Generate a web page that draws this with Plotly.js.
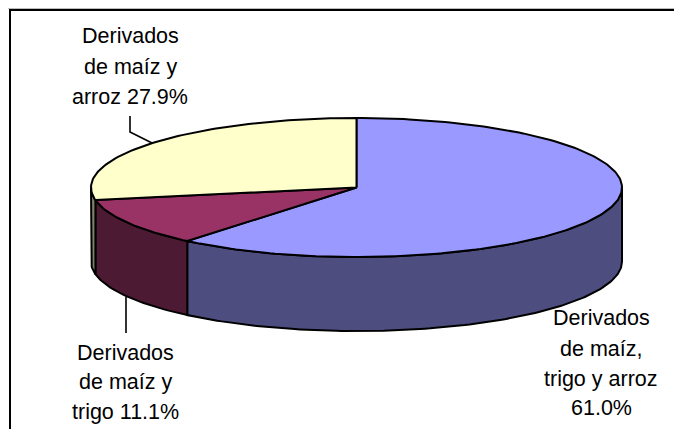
<!DOCTYPE html>
<html><head><meta charset="utf-8">
<script src="https://cdn.plot.ly/plotly-3.0.1.min.js"></script>
<style>html,body{margin:0;padding:0;background:#fff}#c{width:674px;height:429px}</style>
</head><body><div id="c"></div>
<script>
const categories = ["Derivados de maíz, trigo y arroz", "Derivados de maíz y trigo", "Derivados de maíz y arroz"];
const values = [61.0, 11.1, 27.9];
const topColors = ["#9999FF", "#993366", "#FFFFCC"];
const sideColors = ["#4D4D80", "#4D1A33", "#808066"];
const labelLines = [
  ["Derivados", "de maíz,", "trigo y arroz", "61.0%"],
  ["Derivados", "de maíz y", "trigo 11.1%"],
  ["Derivados", "de maíz y", "arroz 27.9%"]
];
const labelX = [601, 125.5, 130];
const labelY = [[317.5, 349, 379, 408], [352.5, 382, 412], [36, 66.5, 97]];

const cx = 356.5, cy = 187.5, rx = 265.5, ry = 69.5, depth = 74;
const total = values.reduce((a, b) => a + b, 0);
const px = t => cx + rx * Math.sin(t);
const py = t => cy - ry * Math.cos(t);
const arc = (a, b) => { const n = Math.max(2, Math.ceil(Math.abs(b - a) / 0.02)), o = [];
  for (let i = 0; i <= n; i++) o.push(a + (b - a) * i / n); return o; };

const traces = [];
let start = 0;
const tops = [];
values.forEach((v, i) => {
  const end = start + v / total * 2 * Math.PI;
  // visible outer wall: the front half, from PI/2 to 3PI/2
  const a = Math.max(start, Math.PI / 2), b = Math.min(end, 3 * Math.PI / 2);
  if (b > a) {
    const ts = arc(a, b);
    const xs = ts.map(px).concat(ts.slice().reverse().map(px));
    const ys = ts.map(py).concat(ts.slice().reverse().map(t => py(t) + depth));
    xs.push(xs[0]); ys.push(ys[0]);
    traces.push({type: "scatter", mode: "lines", x: xs, y: ys, fill: "toself", fillcolor: sideColors[i],
      line: {color: "#000", width: 2}, hoverinfo: "skip", showlegend: false, name: categories[i] + " (lado)"});
  }
  const ts = arc(start, end);
  tops.push({type: "scatter", mode: "lines", x: [cx].concat(ts.map(px), [cx]), y: [cy].concat(ts.map(py), [cy]),
    fill: "toself", fillcolor: topColors[i], line: {color: "#000", width: 2},
    name: categories[i], showlegend: false, hoverinfo: "name"});
  start = end;
});

const annotations = [];
labelLines.forEach((lines, i) => lines.forEach((s, j) => annotations.push({
  x: labelX[i], y: labelY[i][j], xref: "x", yref: "y", text: s, showarrow: false,
  xanchor: "center", yanchor: "middle", font: {family: "Liberation Sans, Arial, sans-serif", size: 21.5, color: "#000"}
})));

const leader = (xs, ys) => ({type: "path", xref: "x", yref: "y",
  path: xs.map((x, i) => (i ? "L" : "M") + x + " " + ys[i]).join(" "), line: {color: "#000", width: 1.6}});

Plotly.newPlot("c", traces.concat(tops), {
  width: 674, height: 429, margin: {l: 0, r: 0, t: 0, b: 0},
  paper_bgcolor: "#fff", plot_bgcolor: "#fff", showlegend: false,
  xaxis: {range: [0, 674], visible: false, fixedrange: true},
  yaxis: {range: [429, 0], visible: false, fixedrange: true},
  annotations,
  shapes: [
    {type: "path", xref: "x", yref: "y", path: "M8 8.5 L680 8.5", line: {color: "#BBBBBB", width: 1}},
    {type: "path", xref: "x", yref: "y", path: "M10 440 L10 10 L680 10", line: {color: "#000", width: 2}},
    leader([130, 130, 152], [116, 132, 143]),
    leader([126, 126], [297, 333])
  ]
}, {displayModeBar: false, staticPlot: true});
</script></body></html>
